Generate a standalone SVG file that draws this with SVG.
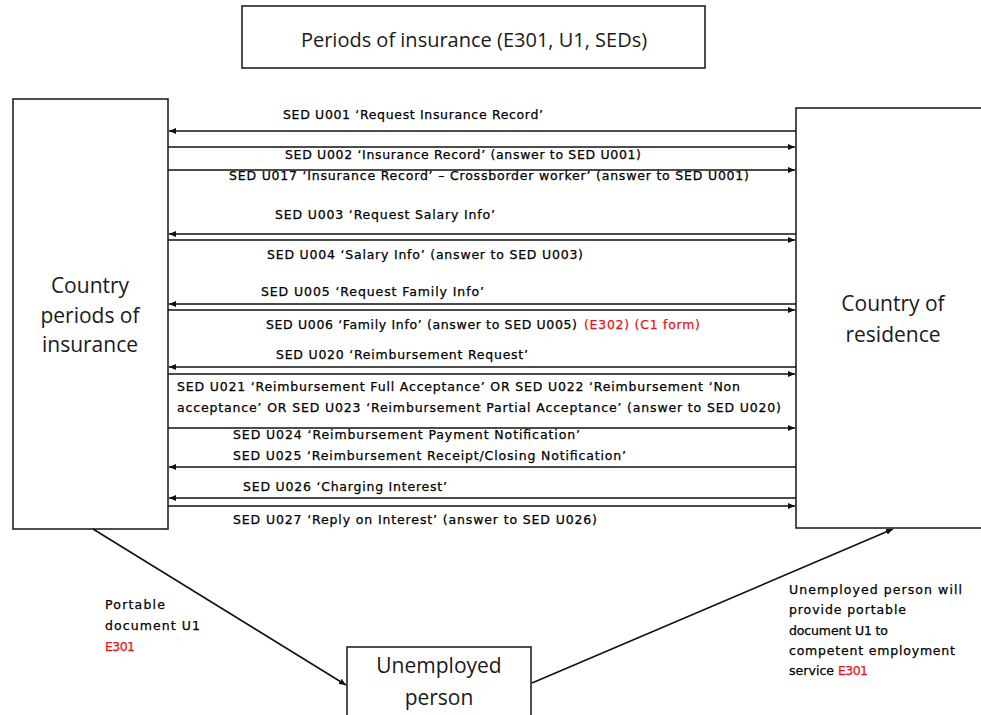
<svg xmlns="http://www.w3.org/2000/svg" width="981" height="715" viewBox="0 0 981 715">
<defs>
<marker id="ah" markerUnits="userSpaceOnUse" markerWidth="8" markerHeight="6" refX="7" refY="3" orient="auto">
<path d="M0,0 L7,3 L0,6 z" fill="#111"/>
</marker>
<style>
.box{fill:#fff;stroke:#222;stroke-width:1.6}
.big{font-family:"Open Sans","DejaVu Sans",sans-serif;font-size:21px;fill:#1a1a1a;text-anchor:middle}
.lbl{font-family:"DejaVu Sans",sans-serif;font-size:12.5px;fill:#000;stroke:#000;stroke-width:0.25}
.red{fill:#e8141b;stroke:#e8141b}
.c{stroke:#111;stroke-width:1.6;fill:none;marker-end:url(#ah)}
</style>
</defs>
<rect width="981" height="715" fill="#fff"/>

<g id="title">
<rect class="box" x="242" y="6" width="463" height="62"/>
<text class="big" x="474" y="47" style="font-size:20px">Periods of insurance (E301, U1, SEDs)</text>
</g>

<g id="country-insurance">
<rect class="box" x="13" y="99" width="155" height="430"/>
<text class="big" x="90" y="293">Country</text>
<text class="big" x="90" y="323">periods of</text>
<text class="big" x="90" y="352">insurance</text>
</g>

<g id="country-residence">
<rect class="box" x="796" y="108" width="220" height="420"/>
<text class="big" x="893" y="311">Country of</text>
<text class="big" x="893" y="342">residence</text>
</g>

<g id="unemployed">
<rect class="box" x="347" y="647" width="184" height="80"/>
<text class="big" x="439" y="673">Unemployed</text>
<text class="big" x="439" y="705">person</text>
</g>

<g id="connectors">
<line class="c" x1="796" y1="131" x2="169" y2="131"/>
<line class="c" x1="168" y1="147" x2="795" y2="147"/>
<line class="c" x1="168" y1="170" x2="795" y2="170"/>
<line class="c" x1="796" y1="234" x2="169" y2="234"/>
<line class="c" x1="168" y1="240" x2="795" y2="240"/>
<line class="c" x1="796" y1="304" x2="169" y2="304"/>
<line class="c" x1="168" y1="310" x2="795" y2="310"/>
<line class="c" x1="796" y1="367" x2="169" y2="367"/>
<line class="c" x1="168" y1="374" x2="795" y2="374"/>
<line class="c" x1="168" y1="428" x2="795" y2="428"/>
<line class="c" x1="796" y1="467" x2="169" y2="467"/>
<line class="c" x1="796" y1="498" x2="169" y2="498"/>
<line class="c" x1="168" y1="506" x2="795" y2="506"/>
<line class="c" x1="93" y1="529" x2="346" y2="685"/>
<line class="c" x1="532" y1="683" x2="893" y2="529"/>
</g>

<g id="labels">
<text class="lbl" x="283" y="119" textLength="260" lengthAdjust="spacing">SED U001 ‘Request Insurance Record’</text>
<text class="lbl" x="285" y="159" textLength="356" lengthAdjust="spacing">SED U002 ‘Insurance Record’ (answer to SED U001)</text>
<text class="lbl" x="229" y="180" textLength="520" lengthAdjust="spacing">SED U017 ‘Insurance Record’ – Crossborder worker’ (answer to SED U001)</text>
<text class="lbl" x="275" y="219" textLength="220" lengthAdjust="spacing">SED U003 ‘Request Salary Info’</text>
<text class="lbl" x="267" y="259" textLength="316" lengthAdjust="spacing">SED U004 ‘Salary Info’ (answer to SED U003)</text>
<text class="lbl" x="261" y="296" textLength="223" lengthAdjust="spacing">SED U005 ‘Request Family Info’</text>
<text class="lbl" x="266" y="329" textLength="311" lengthAdjust="spacing">SED U006 ‘Family Info’ (answer to SED U005)</text>
<text class="lbl red" x="584" y="329" textLength="116" lengthAdjust="spacing">(E302) (C1 form)</text>
<text class="lbl" x="276" y="359" textLength="252" lengthAdjust="spacing">SED U020 ‘Reimbursement Request’</text>
<text class="lbl" x="177" y="391" textLength="563" lengthAdjust="spacing">SED U021 ‘Reimbursement Full Acceptance’ OR SED U022 ‘Reimbursement  ‘Non</text>
<text class="lbl" x="177" y="412" textLength="604" lengthAdjust="spacing">acceptance’ OR SED U023 ‘Reimbursement Partial Acceptance’  (answer to SED U020)</text>
<text class="lbl" x="233" y="439" textLength="347" lengthAdjust="spacing">SED U024 ‘Reimbursement Payment Notification’</text>
<text class="lbl" x="233" y="460" textLength="393" lengthAdjust="spacing">SED U025 ‘Reimbursement Receipt/Closing  Notification’</text>
<text class="lbl" x="243" y="491" textLength="204" lengthAdjust="spacing">SED U026 ‘Charging Interest’</text>
<text class="lbl" x="233" y="524" textLength="364" lengthAdjust="spacing">SED U027 ‘Reply on Interest’ (answer to SED U026)</text>

<text class="lbl" x="105" y="609" textLength="60" lengthAdjust="spacing">Portable</text>
<text class="lbl" x="105" y="630" textLength="95" lengthAdjust="spacing">document  U1</text>
<text class="lbl red" x="105" y="651" textLength="30" lengthAdjust="spacing">E301</text>

<text class="lbl" x="789" y="594" textLength="173" lengthAdjust="spacing">Unemployed person  will</text>
<text class="lbl" x="789" y="614" textLength="117" lengthAdjust="spacing">provide portable</text>
<text class="lbl" x="789" y="635" textLength="99" lengthAdjust="spacing">document  U1 to</text>
<text class="lbl" x="789" y="655" textLength="166" lengthAdjust="spacing">competent employment</text>
<text class="lbl" x="789" y="675" textLength="45" lengthAdjust="spacing">service</text>
<text class="lbl red" x="838" y="675" textLength="30" lengthAdjust="spacing">E301</text>
</g>
</svg>
